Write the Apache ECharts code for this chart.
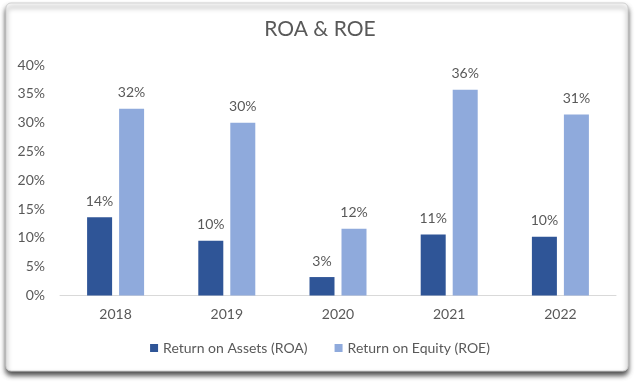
<!DOCTYPE html>
<html>
<head>
<meta charset="utf-8">
<script src="https://cdn.jsdelivr.net/npm/echarts@6/dist/echarts.min.js"></script>
<style>
html,body{margin:0;padding:0;background:#fff;}
#c{width:640px;height:390px;}
</style>
</head>
<body>
<div id="c"></div>
<script>
const categories = ['2018', '2019', '2020', '2021', '2022'];
const roa = [13.6, 9.5, 3.2, 10.6, 10.2];
const roe = [32.4, 30.0, 11.6, 35.7, 31.4];
const seriesNames = ['Return on Assets (ROA)', 'Return on Equity (ROE)'];
const titleText = 'ROA & ROE';

const font = 'Lato, "Open Sans", sans-serif';
const chart = echarts.init(document.getElementById('c'));
const labelCfg = {
  show: true, position: 'top', distance: 9,
  color: '#595959', fontSize: 14, fontFamily: font,
  formatter: p => Math.round(p.value) + '%'
};
chart.setOption({
  animation: false,
  backgroundColor: '#fff',
  graphic: [{
    type: 'rect', z: -10,
    shape: { x: 6, y: 3, width: 622, height: 368, r: 5 },
    style: { fill: '#fff', stroke: '#d0d0d0', lineWidth: 1,
      shadowBlur: 5, shadowOffsetY: 4, shadowColor: 'rgba(0,0,0,0.7)' }
  }],
  title: {
    text: titleText, left: 'center', top: 14,
    textStyle: { color: '#595959', fontSize: 21, fontWeight: 'normal', fontFamily: font }
  },
  legend: {
    bottom: 30, left: 'center', itemWidth: 8, itemHeight: 8, itemGap: 27,
    icon: 'rect',
    textStyle: { color: '#595959', fontSize: 14, fontFamily: font },
    data: seriesNames
  },
  grid: { left: 60, right: 24, top: 65, bottom: 94.5 },
  xAxis: {
    type: 'category', data: categories,
    axisLine: { lineStyle: { color: '#d9d9d9' } },
    axisTick: { show: false },
    axisLabel: { color: '#595959', fontSize: 14, fontFamily: font, margin: 12 }
  },
  yAxis: {
    type: 'value', min: 0, max: 40, interval: 5,
    splitLine: { show: false },
    axisLabel: { color: '#595959', fontSize: 14, fontFamily: font, margin: 15, formatter: '{value}%' }
  },
  series: [
    { name: seriesNames[0], type: 'bar', data: roa, barWidth: 25, barGap: '28%',
      itemStyle: { color: '#2F5597' }, label: labelCfg },
    { name: seriesNames[1], type: 'bar', data: roe, barWidth: 25,
      itemStyle: { color: '#8FAADC' }, label: labelCfg }
  ]
});
</script>
</body>
</html>
